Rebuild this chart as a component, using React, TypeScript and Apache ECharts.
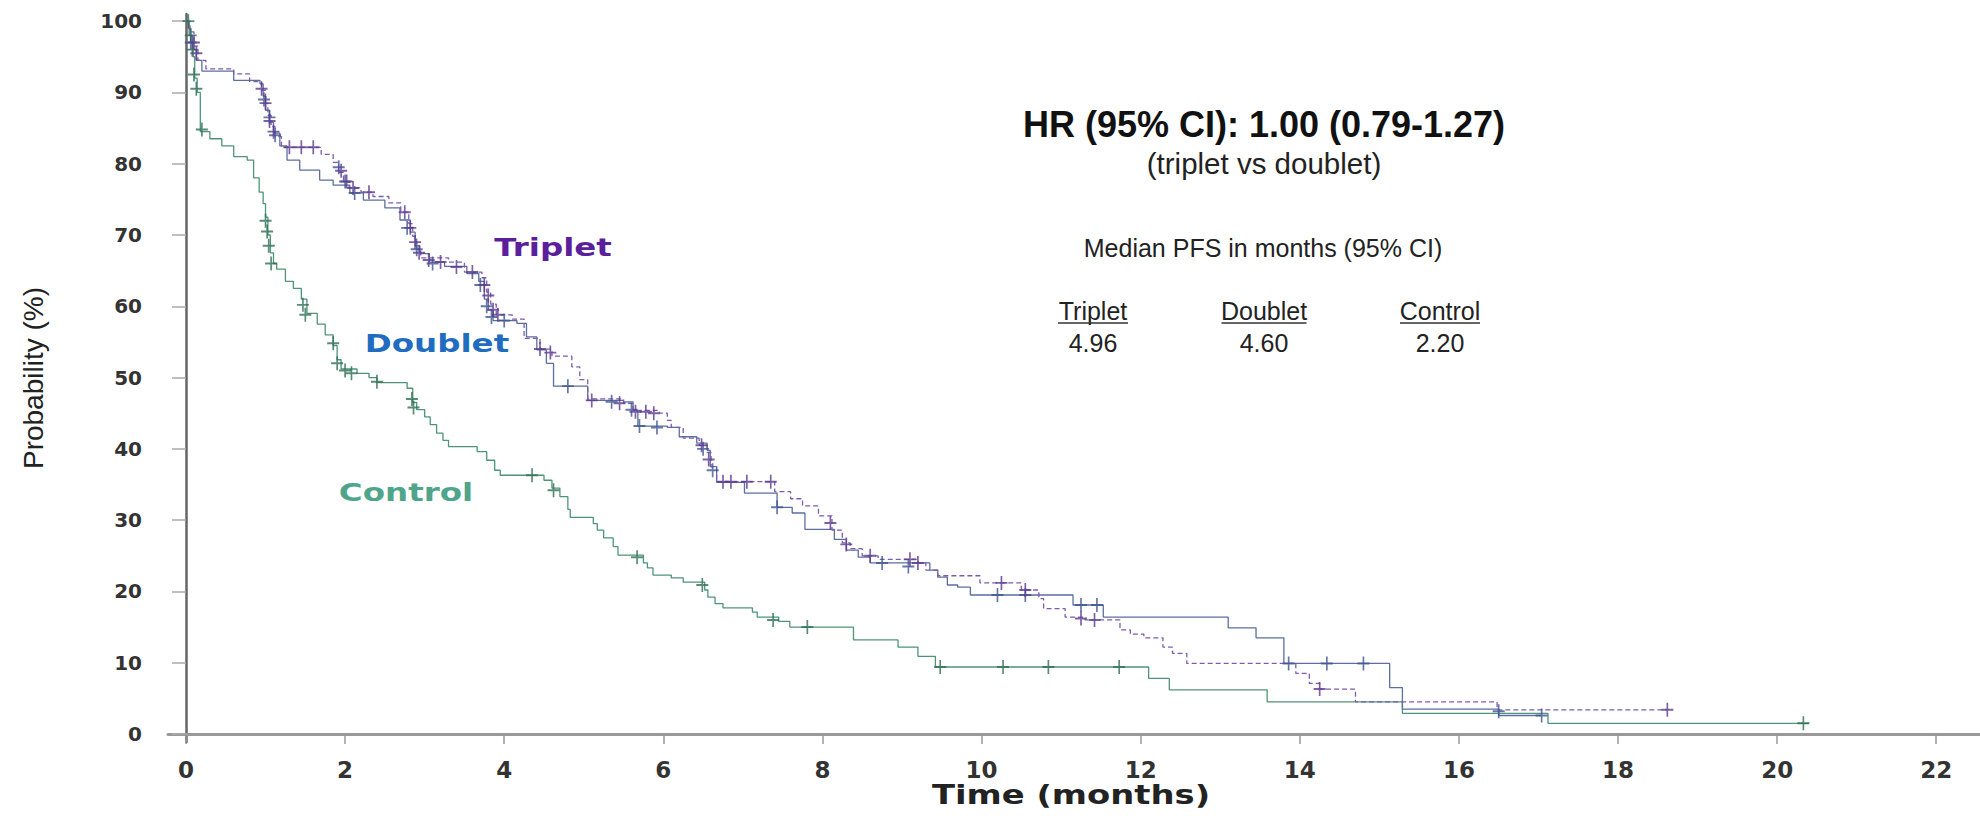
import React, { useEffect, useRef } from "react";
import * as echarts from "echarts";

const xTicks = [0, 2, 4, 6, 8, 10, 12, 14, 16, 18, 20, 22];
const yTicks = [0, 10, 20, 30, 40, 50, 60, 70, 80, 90, 100];

const tripletSteps = [
  [0, 100], [0.05, 98.5], [0.1, 96.5], [0.15, 94.5], [0.25, 93.3], [0.6, 92.6], [0.8, 91.5],
  [0.95, 90.3], [1.0, 88.5], [1.03, 86.8], [1.07, 85.2], [1.12, 83.8], [1.2, 82.3], [1.7, 81.3],
  [1.85, 80.2], [1.92, 78.8], [1.98, 77.5], [2.05, 76.6], [2.2, 76], [2.35, 75.4], [2.55, 74.5],
  [2.7, 73.2], [2.8, 71.6], [2.85, 69.8], [2.9, 68], [2.95, 66.8], [3.3, 66.2], [3.5, 64.8],
  [3.72, 64], [3.78, 62], [3.83, 60.3], [3.9, 58.8], [4.1, 58.2], [4.25, 55.5], [4.45, 54],
  [4.6, 53], [4.85, 51.5], [4.95, 49.7], [5.05, 47], [5.5, 46.4], [5.62, 45.4], [5.95, 45],
  [6.05, 44], [6.1, 43], [6.25, 41.5], [6.45, 40.5], [6.55, 39.5], [6.6, 37.5], [6.67, 35.4],
  [7.4, 34], [7.6, 33], [7.75, 32], [7.95, 30.6], [8.12, 28.6], [8.25, 26.8], [8.35, 26],
  [8.5, 25], [8.7, 24.5], [9.2, 24], [9.3, 23], [9.45, 22.2], [9.98, 21.2], [10.5, 20.2],
  [10.72, 19], [10.78, 17.6], [11.05, 16.4], [11.3, 16], [11.74, 14.6], [11.87, 14],
  [12.04, 13.5], [12.28, 12.2], [12.4, 11.3], [12.58, 9.9], [13.95, 8.5], [14.12, 7.1],
  [14.25, 6.3], [14.7, 4.5], [16.48, 3.4], [18.62, 3.4],
];

const doubletSteps = [
  [0, 100], [0.04, 98], [0.08, 96], [0.13, 94.5], [0.2, 93], [0.6, 91.7], [0.93, 91.2],
  [0.97, 89.5], [1.0, 87.5], [1.05, 85.8], [1.1, 84.3], [1.18, 82.5], [1.27, 80.5], [1.43, 79.1],
  [1.68, 77.7], [1.85, 77], [2.06, 75.9], [2.23, 74.9], [2.5, 73.8], [2.69, 72.1], [2.82, 70.4],
  [2.88, 68.5], [2.94, 67.4], [3.06, 66.2], [3.25, 65.6], [3.53, 64.6], [3.68, 63.5], [3.75, 61],
  [3.8, 59.5], [3.86, 58], [4.16, 57.6], [4.28, 55.7], [4.41, 53.9], [4.53, 52], [4.62, 48.8],
  [5.05, 46.8], [5.5, 46.6], [5.62, 45.4], [5.68, 43.2], [6.05, 43], [6.2, 41.7], [6.42, 40.8],
  [6.55, 39.8], [6.59, 37.5], [6.67, 35.3], [7.02, 33.8], [7.43, 31.8], [7.62, 31], [7.78, 28.7],
  [8.15, 27.3], [8.3, 25.8], [8.45, 24.8], [8.6, 24], [9.35, 23], [9.45, 22], [9.57, 20.9],
  [9.7, 20.6], [9.86, 19.5], [11.15, 18.1], [11.53, 16.4], [13.1, 14.9], [13.45, 13.5],
  [13.8, 9.9], [15.13, 6.5], [15.29, 3.5], [16.5, 2.6], [17.04, 2.6],
];

const controlSteps = [
  [0, 100], [0.03, 99], [0.06, 97], [0.09, 95], [0.11, 92], [0.14, 90], [0.18, 84.5], [0.3, 83.5],
  [0.45, 82.5], [0.6, 81], [0.77, 80.5], [0.85, 78], [0.92, 76], [0.97, 74.4], [1.0, 72.5],
  [1.03, 70], [1.06, 67.5], [1.1, 66], [1.14, 65.2], [1.25, 63.5], [1.35, 62.5], [1.45, 61],
  [1.52, 59], [1.65, 57.5], [1.75, 56], [1.85, 54.5], [1.9, 52.5], [1.95, 51.2], [2.15, 50.6],
  [2.3, 50], [2.4, 49.3], [2.78, 48.5], [2.85, 46.5], [2.9, 45.5], [3.0, 44.5], [3.07, 43.4],
  [3.15, 42.2], [3.23, 41.2], [3.3, 40.3], [3.66, 39.6], [3.78, 38.4], [3.88, 37], [3.95, 36.3],
  [4.5, 35.6], [4.6, 34.5], [4.7, 33.3], [4.8, 31.5], [4.83, 30.4], [5.12, 29.5], [5.17, 28.6],
  [5.25, 27.5], [5.37, 26.3], [5.43, 25.1], [5.75, 24], [5.8, 23.3], [5.87, 22.3], [6.1, 21.9],
  [6.25, 21.3], [6.52, 20.2], [6.56, 19.2], [6.65, 18.3], [6.75, 17.7], [7.12, 17.1], [7.18, 16.4],
  [7.45, 15.8], [7.59, 15], [8.39, 13.2], [8.95, 12.2], [9.2, 10.9], [9.42, 9.4], [12.1, 7.8],
  [12.36, 6.2], [13.59, 4.5], [15.29, 2.9], [17.12, 1.5], [20.4, 1.5],
];

const tripletCensored = [
  [0.1, 97], [0.13, 95.5], [0.95, 90.5], [1.0, 88.5], [1.05, 86], [1.1, 84.5], [1.3, 82.3],
  [1.45, 82.3], [1.6, 82.3], [1.95, 79], [2.02, 77.5], [2.1, 76.6], [2.3, 76], [2.75, 73.2],
  [2.82, 71], [2.88, 69], [2.93, 67.5], [3.05, 66.5], [3.2, 66.2], [3.4, 65.5], [3.6, 64.8],
  [3.75, 63], [3.8, 61.5], [3.86, 59.5], [3.92, 58.8], [4.45, 54], [4.58, 53.5], [5.1, 46.8],
  [5.45, 46.4], [5.65, 45.2], [5.78, 45.2], [5.88, 45], [6.48, 40.5], [6.57, 38.5], [6.75, 35.4],
  [6.85, 35.4], [7.05, 35.4], [7.35, 35.4], [8.1, 29.6], [8.3, 26.6], [8.6, 25], [9.1, 24.5],
  [9.2, 24], [10.25, 21.2], [10.55, 20.2], [11.25, 16.2], [11.42, 16], [14.25, 6.3], [18.62, 3.4],
];

const doubletCensored = [
  [0.06, 97], [0.98, 89], [1.05, 86.5], [1.12, 84], [1.92, 79.5], [2.0, 77.5], [2.12, 75.9],
  [2.78, 71], [2.9, 68], [3.1, 66], [3.7, 63], [3.78, 60], [3.84, 58.5], [4.0, 58], [4.8, 48.8],
  [5.35, 46.6], [5.6, 45.5], [5.7, 43.2], [5.92, 43], [6.5, 40], [6.62, 37], [7.43, 31.8],
  [8.75, 24], [9.08, 23.5], [10.2, 19.5], [10.55, 19.5], [11.25, 18.1], [11.45, 18.1],
  [13.86, 9.9], [14.34, 9.9], [14.8, 9.9], [16.5, 3.2], [17.04, 2.6],
];

const controlCensored = [
  [0.03, 100], [0.06, 98], [0.08, 96], [0.1, 92.5], [0.13, 90.5], [0.2, 84.8], [1.0, 72],
  [1.02, 70.5], [1.04, 68.5], [1.07, 66], [1.47, 60.2], [1.5, 58.8], [1.85, 54.8], [1.9, 52],
  [2.0, 51], [2.08, 50.6], [2.4, 49.4], [2.84, 47], [2.86, 45.8], [4.35, 36.3], [4.62, 34.2],
  [5.67, 24.8], [6.49, 20.9], [7.38, 16], [7.81, 15], [9.48, 9.4], [10.27, 9.4], [10.84, 9.4],
  [11.73, 9.4], [20.33, 1.5],
];

const groupNames = ["Triplet", "Doublet", "Control"];
const medianValues = ["4.96", "4.60", "2.20"];
const hrTitle = "HR (95% CI): 1.00 (0.79-1.27)";
const hrSubtitle = "(triplet vs doublet)";
const medianTitle = "Median PFS in months (95% CI)";

export default function App() {
  const ref = useRef<HTMLDivElement>(null);

  useEffect(() => {
    if (!ref.current) return;
    const chart = echarts.init(ref.current, null, { renderer: "svg" });
    const plus = "path://M4.3,0H5.7V4.3H10V5.7H5.7V10H4.3V5.7H0V4.3H4.3Z";
    const tickFont = '"DejaVu Sans", Verdana, sans-serif';
    const arial = '"Liberation Sans", Arial, sans-serif';

    const lineSeries = (name: string, data: number[][], color: string, dashed: boolean) => ({
      type: "line",
      name,
      data,
      step: "end",
      showSymbol: false,
      symbol: "none",
      silent: true,
      lineStyle: { color, width: 1.3, type: dashed ? [5, 3] : "solid" },
      z: 2,
    });
    const censorSeries = (name: string, data: number[][], color: string) => ({
      type: "scatter",
      name,
      data,
      symbol: plus,
      symbolSize: [12, 14],
      itemStyle: { color },
      silent: true,
      z: 3,
    });

    const medX = [1093, 1264, 1440];
    const medW = [70, 85, 80];
    const graphics: any[] = [
      {
        type: "text", x: 1264, y: 124,
        style: { text: hrTitle, font: `bold 36px ${arial}`, fill: "#111", align: "center", verticalAlign: "middle" },
      },
      {
        type: "text", x: 1264, y: 163,
        style: { text: hrSubtitle, font: `29.5px ${arial}`, fill: "#222", align: "center", verticalAlign: "middle" },
      },
      {
        type: "text", x: 1263, y: 248,
        style: { text: medianTitle, font: `25px ${arial}`, fill: "#222", align: "center", verticalAlign: "middle" },
      },
      {
        type: "text", x: 553, y: 247, scaleX: 1.3,
        style: { text: groupNames[0], font: `bold 25px ${tickFont}`, fill: "#5c1f9c", align: "center", verticalAlign: "middle" },
      },
      {
        type: "text", x: 437, y: 343, scaleX: 1.3,
        style: { text: groupNames[1], font: `bold 25px ${tickFont}`, fill: "#1f6cc0", align: "center", verticalAlign: "middle" },
      },
      {
        type: "text", x: 406, y: 492, scaleX: 1.3,
        style: { text: groupNames[2], font: `bold 25px ${tickFont}`, fill: "#4fa58a", align: "center", verticalAlign: "middle" },
      },
      {
        type: "text", x: 1071, y: 795, scaleX: 1.3,
        style: { text: "Time (months)", font: `bold 26px ${tickFont}`, fill: "#222", align: "center", verticalAlign: "middle" },
      },
    ];
    groupNames.forEach((g, i) => {
      graphics.push({
        type: "text", x: medX[i], y: 311,
        style: { text: g, font: `25px ${arial}`, fill: "#222", align: "center", verticalAlign: "middle" },
      });
      graphics.push({
        type: "line",
        shape: { x1: medX[i] - medW[i] / 2, y1: 323, x2: medX[i] + medW[i] / 2, y2: 323 },
        style: { stroke: "#333", lineWidth: 1.5 },
      });
      graphics.push({
        type: "text", x: medX[i], y: 343,
        style: { text: medianValues[i], font: `25px ${arial}`, fill: "#222", align: "center", verticalAlign: "middle" },
      });
    });

    chart.setOption({
      animation: false,
      backgroundColor: "#fff",
      grid: { left: 168, right: 0, top: 14, bottom: 78, containLabel: false },
      xAxis: {
        type: "value",
        min: -0.226,
        max: 22.55,
        axisLine: { show: true, lineStyle: { color: "#999", width: 3 } },
        axisTick: { show: true, customValues: xTicks, length: 10, lineStyle: { color: "#999", width: 1.5 } },
        axisLabel: {
          customValues: xTicks,
          margin: 16,
          fontFamily: tickFont,
          fontWeight: "bold",
          fontSize: 23,
          color: "#333",
        },
        splitLine: { show: false },
      },
      yAxis: {
        type: "value",
        min: -1.12,
        max: 101,
        name: "Probability (%)",
        nameLocation: "middle",
        nameGap: 121,
        nameTextStyle: { fontFamily: arial, fontSize: 28, color: "#222" },
        axisLine: { show: true, lineStyle: { color: "#666", width: 2.5 } },
        axisTick: { show: true, customValues: yTicks, length: 14, lineStyle: { color: "#aaa", width: 1.5 } },
        axisLabel: {
          customValues: yTicks,
          margin: 26,
          fontFamily: tickFont,
          fontWeight: "bold",
          fontSize: 20,
          color: "#333",
        },
        splitLine: { show: false },
      },
      series: [
        lineSeries("Control", controlSteps, "#4e9478", false),
        lineSeries("Doublet", doubletSteps, "#5b6e9e", false),
        lineSeries("Triplet", tripletSteps, "#7d5cae", true),
        censorSeries("Control censored", controlCensored, "#2f6f55"),
        censorSeries("Doublet censored", doubletCensored, "#3d5590"),
        censorSeries("Triplet censored", tripletCensored, "#5b3a8f"),
      ],
      graphic: graphics,
    });

    return () => chart.dispose();
  }, []);

  return (
    <div
      ref={ref}
      style={{ position: "absolute", left: 0, top: 0, width: 1980, height: 820, background: "#fff" }}
    />
  );
}
